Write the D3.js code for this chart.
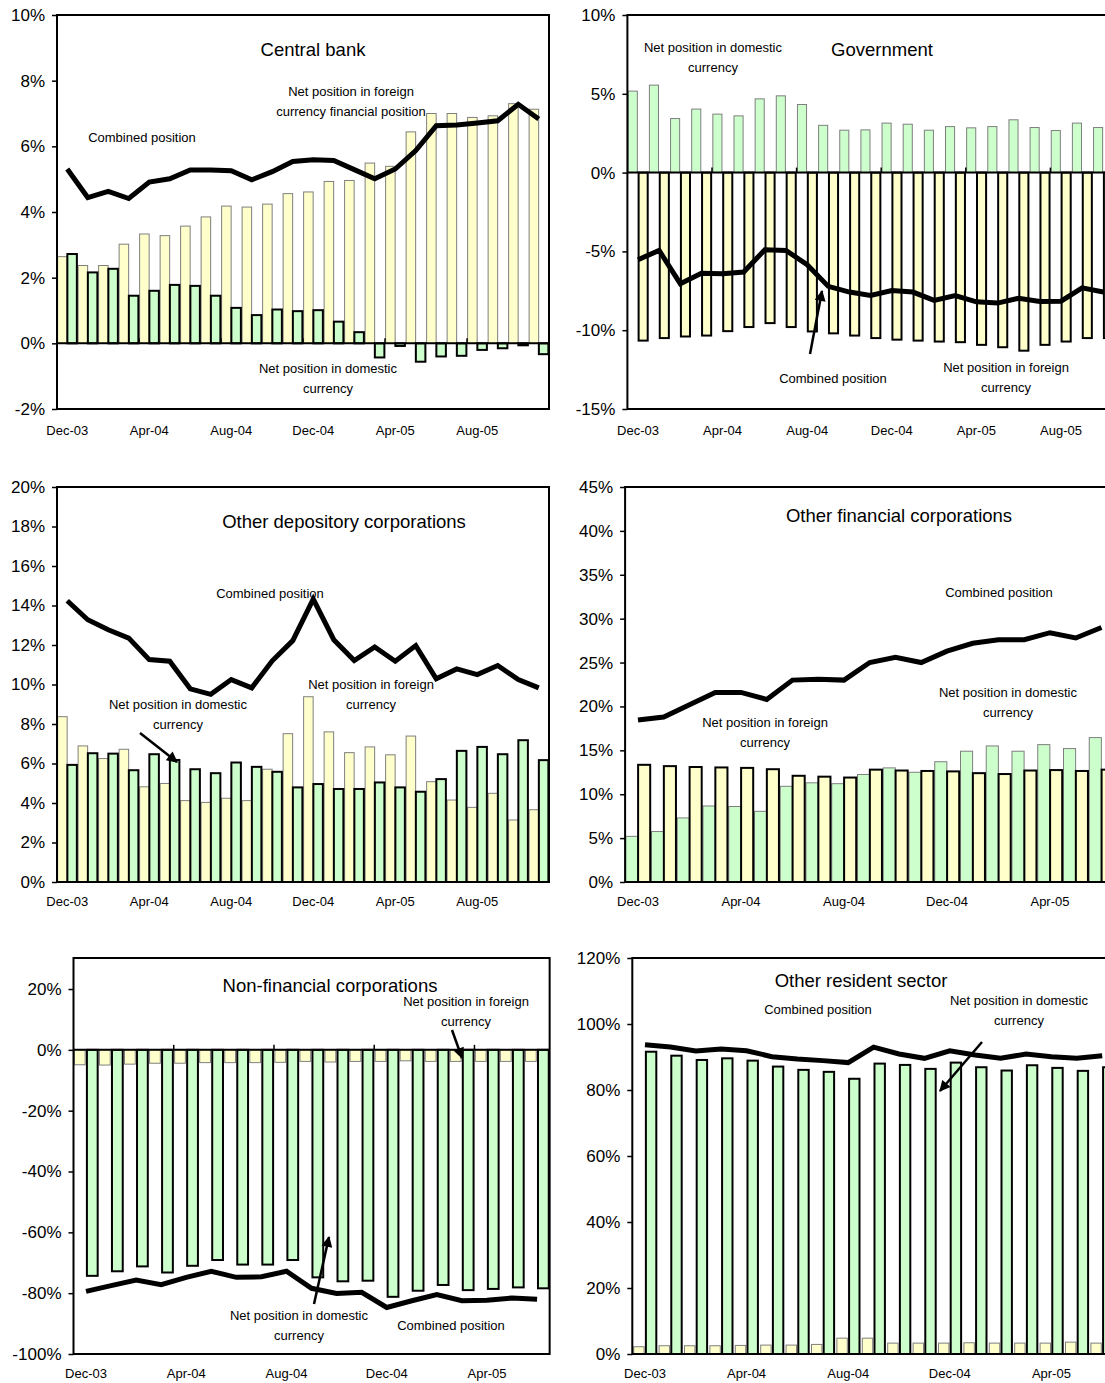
<!DOCTYPE html>
<html lang="en">
<head>
<meta charset="UTF-8">
<title>Net open positions by sector</title>
<script src="https://d3js.org/d3.v7.min.js"></script>
<style>
  body { margin: 0; background: #fff; }
  text { font-family: "Liberation Sans", Arial, sans-serif; fill: #000; }
</style>
</head>
<body>
<script>
// months on the category axis
var months = ["Dec-03","Jan-04","Feb-04","Mar-04","Apr-04","May-04","Jun-04","Jul-04","Aug-04","Sep-04","Oct-04","Nov-04",
              "Dec-04","Jan-05","Feb-05","Mar-05","Apr-05","May-05","Jun-05","Jul-05","Aug-05","Sep-05","Oct-05","Nov-05"];
var tickMonths = ["Dec-03","Apr-04","Aug-04","Dec-04","Apr-05","Aug-05"];

// central bank
var cbForeign  = [2.64,2.37,2.37,3.02,3.33,3.28,3.57,3.85,4.18,4.15,4.24,4.56,4.61,4.93,4.96,5.49,5.39,6.44,7.0,7.0,6.88,6.93,7.3,7.13];
var cbDomestic = [2.72,2.16,2.27,1.45,1.6,1.78,1.75,1.45,1.08,0.86,1.03,0.98,1.01,0.66,0.34,-0.43,-0.08,-0.56,-0.4,-0.38,-0.2,-0.15,-0.06,-0.33];
var cbCombined = [5.31,4.44,4.63,4.41,4.91,5.01,5.28,5.28,5.26,4.98,5.23,5.54,5.59,5.57,5.29,5.01,5.31,5.87,6.63,6.65,6.71,6.78,7.28,6.83];

// government
var govDomestic = [5.17,5.55,3.43,4.03,3.71,3.6,4.68,4.87,4.32,3.0,2.69,2.71,3.14,3.07,2.69,2.92,2.84,2.92,3.35,2.86,2.67,3.14,2.86];
var govForeign  = [-10.66,-10.5,-10.4,-10.34,-10.06,-9.8,-9.55,-9.8,-10.08,-10.2,-10.34,-10.5,-10.6,-10.66,-10.72,-10.76,-10.93,-11.08,-11.3,-10.93,-10.72,-10.5,-10.5];
var govCombined = [-5.53,-4.94,-7.05,-6.38,-6.42,-6.31,-4.89,-4.94,-5.85,-7.22,-7.58,-7.8,-7.48,-7.58,-8.11,-7.8,-8.2,-8.28,-7.97,-8.18,-8.16,-7.31,-7.58];

// other depository corporations
var odcForeign  = [8.37,6.89,6.25,6.72,4.82,4.99,4.12,4.03,4.24,4.12,5.71,7.51,9.38,7.6,6.55,6.84,6.44,7.39,5.08,4.15,3.78,4.49,3.14,3.66];
var odcDomestic = [5.93,6.52,6.5,5.66,6.47,6.18,5.71,5.51,6.05,5.83,5.58,4.79,4.96,4.71,4.71,5.04,4.79,4.57,5.21,6.64,6.84,6.47,7.18,6.17];
var odcCombined = [14.24,13.28,12.77,12.35,11.26,11.18,9.78,9.5,10.25,9.83,11.2,12.22,14.32,12.27,11.21,11.9,11.18,11.97,10.29,10.79,10.5,10.96,10.25,9.83];

// other financial corporations
var ofcDomestic = [5.2,5.75,7.3,8.66,8.6,8.05,10.9,11.3,11.2,12.25,13.0,12.5,13.7,14.9,15.5,14.9,15.65,15.2,16.45];
var ofcForeign  = [13.35,13.2,13.1,13.05,13.0,12.85,12.1,12.0,11.9,12.8,12.7,12.65,12.6,12.4,12.3,12.7,12.75,12.65,12.8];
var ofcCombined = [18.45,18.8,20.2,21.6,21.6,20.8,23.0,23.1,23.0,25.0,25.6,25.0,26.3,27.2,27.6,27.6,28.4,27.8,29.0];

// non-financial corporations
var nfcForeign  = [-4.9,-5.0,-4.7,-4.4,-4.4,-4.2,-4.2,-4.2,-4.1,-3.8,-4.0,-3.8,-3.8,-3.6,-3.8,-3.8,-3.8,-3.8,-3.8];
var nfcDomestic = [-74.3,-72.8,-71.2,-73.2,-71.0,-69.1,-70.6,-70.6,-69.1,-74.8,-76.1,-75.9,-81.2,-79.2,-77.3,-79.0,-78.6,-78.1,-78.4];
var nfcCombined = [-79.4,-77.5,-75.7,-77.2,-74.8,-72.8,-74.8,-74.6,-72.8,-78.4,-80.1,-79.7,-84.7,-82.5,-80.5,-82.5,-82.3,-81.6,-82.0];

// other resident sector
var orsForeign  = [2.2,2.5,2.5,2.5,2.6,2.7,2.7,2.9,4.8,4.8,3.3,3.3,3.3,3.4,3.3,3.3,3.3,3.6,3.3];
var orsDomestic = [91.6,90.4,89.1,89.6,88.9,87.1,86.1,85.5,83.4,88.0,87.6,86.4,88.3,86.9,85.9,87.5,86.7,85.8,86.9];
var orsCombined = [93.7,93.0,91.8,92.4,91.9,90.1,89.4,88.9,88.3,93.0,90.9,89.6,91.9,90.6,89.6,90.9,90.1,89.6,90.4];

// y tick labels
var cbTicks  = [-2,0,2,4,6,8,10];
var govTicks = [-15,-10,-5,0,5,10];
var odcTicks = [0,2,4,6,8,10,12,14,16,18,20];
var ofcTicks = [0,5,10,15,20,25,30,35,40,45];
var nfcTicks = [-100,-80,-60,-40,-20,0,20];
var orsTicks = [0,20,40,60,80,100,120];

var YELLOW = "#FFFFCC", GREEN = "#CCFFCC";
var W = 1105;

var svg = d3.select("body").append("svg")
    .attr("width", W)
    .attr("height", 1383);

// arrow head
svg.append("defs").append("marker")
    .attr("id", "head")
    .attr("markerUnits", "userSpaceOnUse")
    .attr("viewBox", "0 0 10 10")
    .attr("refX", 9).attr("refY", 5)
    .attr("markerWidth", 13).attr("markerHeight", 11)
    .attr("orient", "auto")
    .append("path").attr("d", "M0,0 L10,5 L0,10 Z").attr("fill", "#000");

var panels = [
  { title: "Central bank", tx: 313, ty: 56,
    left: 57, top: 15, bottom: 409, band: 20.5, nCats: 24, domain: [-2, 10], ticks: cbTicks,
    series: [cbForeign, cbDomestic], fills: [YELLOW, GREEN], line: cbCombined,
    barW: 0.465, gap: 0.01, labelPad: 17,
    notes: [ {x: 351, y: 96, lines: ["Net position in foreign", "currency financial position"]},
             {x: 142, y: 142, lines: ["Combined position"]},
             {x: 328, y: 373, lines: ["Net position in domestic", "currency"]} ],
    arrows: [] },
  { title: "Government", tx: 882, ty: 56,
    left: 627.4, top: 15, bottom: 409, band: 21.15, nCats: 24, domain: [-15, 10], ticks: govTicks,
    series: [govDomestic, govForeign], fills: [GREEN, YELLOW], line: govCombined,
    barW: 0.43, gap: 0.06, labelPad: 17,
    notes: [ {x: 713, y: 52, lines: ["Net position in domestic", "currency"]},
             {x: 833, y: 383, lines: ["Combined position"]},
             {x: 1006, y: 372, lines: ["Net position in foreign", "currency"]} ],
    arrows: [ [810, 354, 822, 291] ] },
  { title: "Other depository corporations", tx: 344, ty: 528,
    left: 57, top: 487, bottom: 882, band: 20.5, nCats: 24, domain: [0, 20], ticks: odcTicks,
    series: [odcForeign, odcDomestic], fills: [YELLOW, GREEN], line: odcCombined,
    barW: 0.465, gap: 0.01, labelPad: 15,
    notes: [ {x: 270, y: 598, lines: ["Combined position"]},
             {x: 371, y: 689, lines: ["Net position in foreign", "currency"]},
             {x: 178, y: 709, lines: ["Net position in domestic", "currency"]} ],
    arrows: [ [140, 733, 177, 762] ] },
  { title: "Other financial corporations", tx: 899, ty: 522,
    left: 625.1, top: 487, bottom: 882, band: 25.75, nCats: 20, domain: [0, 45], ticks: ofcTicks,
    series: [ofcDomestic, ofcForeign], fills: [GREEN, YELLOW], line: ofcCombined,
    barW: 0.47, gap: 0.01, labelPad: 15,
    notes: [ {x: 999, y: 597, lines: ["Combined position"]},
             {x: 1008, y: 697, lines: ["Net position in domestic", "currency"]},
             {x: 765, y: 727, lines: ["Net position in foreign", "currency"]} ],
    arrows: [] },
  { title: "Non-financial corporations", tx: 330, ty: 992,
    left: 73.5, top: 958, bottom: 1354, band: 25.06, nCats: 19, domain: [-100, 30.2], ticks: nfcTicks,
    series: [nfcForeign, nfcDomestic], fills: [YELLOW, GREEN], line: nfcCombined,
    barW: 0.43, gap: 0.07, labelPad: 15,
    notes: [ {x: 466, y: 1006, lines: ["Net position in foreign", "currency"]},
             {x: 299, y: 1320, lines: ["Net position in domestic", "currency"]},
             {x: 451, y: 1330, lines: ["Combined position"]} ],
    arrows: [ [452, 1030, 462, 1058], [314, 1304, 329, 1237] ] },
  { title: "Other resident sector", tx: 861, ty: 987,
    left: 632.3, top: 958, bottom: 1354, band: 25.4, nCats: 20, domain: [0, 120], ticks: orsTicks,
    series: [orsForeign, orsDomestic], fills: [YELLOW, GREEN], line: orsCombined,
    barW: 0.41, gap: 0.07, labelPad: 15,
    notes: [ {x: 818, y: 1014, lines: ["Combined position"]},
             {x: 1019, y: 1005, lines: ["Net position in domestic", "currency"]} ],
    arrows: [ [982, 1042, 940, 1091] ] }
];

panels.forEach(function(p) {
    var g = svg.append("g");
    var cats = months.slice(0, p.nCats);
    var right = p.left + cats.length * p.band;

    var x = d3.scaleBand()
        .domain(cats)
        .range([p.left, right])
        .padding(0);
    var y = d3.scaleLinear()
        .domain(p.domain)
        .range([p.bottom, p.top]);

    var cx = function(i) { return x(cats[i]) + x.bandwidth() / 2; };
    var w = p.band * p.barW, gp = p.band * p.gap / 2;

    // only the month labels that fit on the page
    var shown = tickMonths.filter(function(m) {
        return x(m) !== undefined && x(m) + x.bandwidth() / 2 + 22 < W;
    });

    // bars: first series left of the category centre, second series right
    p.series.forEach(function(vals, s) {
        g.append("g").selectAll("rect")
            .data(vals)
            .enter()
            .append("rect")
            .attr("x", function(d, i) { return s === 0 ? cx(i) - gp - w : cx(i) + gp; })
            .attr("y", function(d) { return Math.min(y(d), y(0)); })
            .attr("width", w)
            .attr("height", function(d) { return Math.abs(y(d) - y(0)); })
            .attr("fill", p.fills[s])
            .attr("stroke", s === 0 ? "#7f7f7f" : "#000")
            .attr("stroke-width", s === 0 ? 1 : 2);
    });

    // zero line with category ticks, when zero is inside the plot
    if (p.domain[0] < 0) {
        g.append("line")
            .attr("x1", p.left).attr("x2", right)
            .attr("y1", y(0)).attr("y2", y(0))
            .attr("stroke", "#000").attr("stroke-width", 2);
        g.append("g").selectAll("line")
            .data(shown.slice(1))
            .enter()
            .append("line")
            .attr("x1", function(m) { return x(m); })
            .attr("x2", function(m) { return x(m); })
            .attr("y1", y(0) - 5).attr("y2", y(0))
            .attr("stroke", "#000").attr("stroke-width", 1.5);
    }

    // combined position
    g.append("path")
        .datum(p.line)
        .attr("fill", "none")
        .attr("stroke", "#000")
        .attr("stroke-width", 5)
        .attr("d", d3.line().x(function(d, i) { return cx(i); }).y(function(d) { return y(d); }));

    // plot frame
    g.append("rect")
        .attr("x", p.left).attr("y", p.top)
        .attr("width", right - p.left).attr("height", p.bottom - p.top)
        .attr("fill", "none").attr("stroke", "#000").attr("stroke-width", 2);

    // y axis
    var ya = g.append("g")
        .attr("transform", "translate(" + p.left + ",0)")
        .call(d3.axisLeft(y).tickValues(p.ticks).tickSize(5).tickPadding(7)
              .tickFormat(function(d) { return d + "%"; }));
    ya.select(".domain").remove();
    ya.selectAll(".tick line").attr("stroke", "#000").attr("stroke-width", 1.5);
    ya.selectAll("text").style("font-size", "17px").style("font-family", "Liberation Sans, Arial, sans-serif");

    // x axis labels every four months
    var xa = g.append("g")
        .attr("transform", "translate(0," + p.bottom + ")")
        .call(d3.axisBottom(x).tickValues(shown).tickSize(0).tickPadding(p.labelPad));
    xa.select(".domain").remove();
    xa.selectAll("text").style("font-size", "13px").style("font-family", "Liberation Sans, Arial, sans-serif");

    // title
    g.append("text")
        .attr("x", p.tx).attr("y", p.ty)
        .attr("text-anchor", "middle")
        .style("font-size", "18.5px")
        .text(p.title);

    // annotations
    p.notes.forEach(function(n) {
        n.lines.forEach(function(t, k) {
            g.append("text")
                .attr("x", n.x).attr("y", n.y + k * 19.5)
                .attr("text-anchor", "middle")
                .style("font-size", "13px")
                .text(t);
        });
    });

    p.arrows.forEach(function(a) {
        g.append("line")
            .attr("x1", a[0]).attr("y1", a[1])
            .attr("x2", a[2]).attr("y2", a[3])
            .attr("stroke", "#000").attr("stroke-width", 2.5)
            .attr("marker-end", "url(#head)");
    });
});
</script>
</body>
</html>
